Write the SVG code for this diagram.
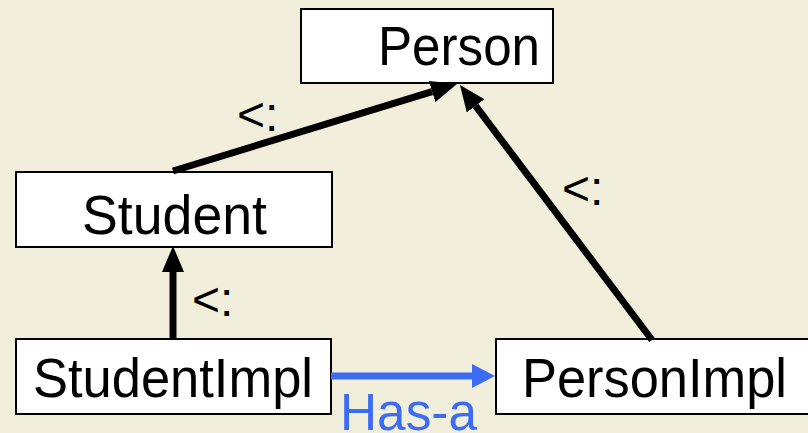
<svg xmlns="http://www.w3.org/2000/svg" width="808" height="433" viewBox="0 0 808 433">
  <style>
    .box { fill: #ffffff; stroke: #000000; stroke-width: 2; }
    .name { font-family: "Liberation Sans", Arial, sans-serif; font-size: 55px; fill: #000000; }
    .rel { font-family: "Liberation Sans", Arial, sans-serif; font-size: 48px; fill: #000000; }
    .edge { stroke: #000000; stroke-width: 7; fill: none; }
    .has { stroke: #3c6cf6; stroke-width: 7; fill: none; }
    .hasLabel { font-family: "Liberation Sans", Arial, sans-serif; font-size: 51px; fill: #3c6cf6; }
  </style>
  <defs>
    <marker id="head" markerUnits="userSpaceOnUse" viewBox="0 0 26 22" markerWidth="26" markerHeight="22" refX="0" refY="11" orient="auto">
      <path d="M0,0 L26,11 L0,22 Z" fill="#000000"/>
    </marker>
    <marker id="headBlue" markerUnits="userSpaceOnUse" viewBox="0 0 23 24" markerWidth="23" markerHeight="24" refX="0" refY="12" orient="auto">
      <path d="M0,0 L23,12 L0,24 Z" fill="#3c6cf6"/>
    </marker>
  </defs>

  <rect width="808" height="433" fill="#f1efdc"/>

  <g id="person">
    <rect class="box" x="301" y="9" width="252" height="74"/>
    <text class="name" x="378" y="65" textLength="162" lengthAdjust="spacingAndGlyphs">Person</text>
  </g>

  <g id="student">
    <rect class="box" x="16" y="172" width="316" height="75"/>
    <text class="name" x="82" y="234" textLength="185" lengthAdjust="spacingAndGlyphs">Student</text>
  </g>

  <g id="studentImpl">
    <rect class="box" x="16" y="339" width="315" height="75"/>
    <text class="name" x="33" y="397" textLength="280" lengthAdjust="spacingAndGlyphs">StudentImpl</text>
  </g>

  <g id="personImpl">
    <rect class="box" x="496" y="339" width="320" height="75"/>
    <text class="name" x="522" y="397" textLength="265" lengthAdjust="spacingAndGlyphs">PersonImpl</text>
  </g>

  <g id="connectors">
    <!-- Student <: Person -->
    <line class="edge" x1="173" y1="171" x2="432.1" y2="91.6" marker-end="url(#head)"/>
    <text class="rel" x="237" y="131">&lt;:</text>
    <!-- PersonImpl <: Person -->
    <line class="edge" x1="652" y1="340" x2="475.6" y2="105.8" marker-end="url(#head)"/>
    <text class="rel" x="562" y="205">&lt;:</text>
    <!-- StudentImpl <: Student -->
    <line class="edge" x1="173" y1="339" x2="173" y2="272" marker-end="url(#head)"/>
    <text class="rel" x="192" y="316">&lt;:</text>
    <!-- StudentImpl has-a PersonImpl -->
    <line class="has" x1="331" y1="376" x2="472" y2="376" marker-end="url(#headBlue)"/>
    <text class="hasLabel" x="340" y="430" textLength="137" lengthAdjust="spacingAndGlyphs">Has-a</text>
  </g>
</svg>
